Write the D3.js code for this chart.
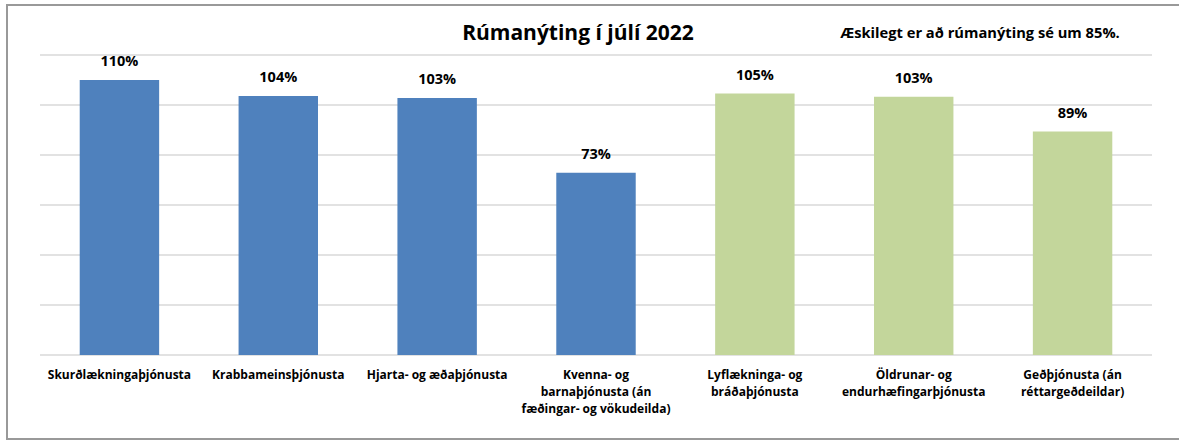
<!DOCTYPE html>
<html>
<head>
<meta charset="utf-8">
<script src="https://cdn.jsdelivr.net/npm/d3@7"></script>
<style>
  body { margin: 0; background: #fff; }
  text { font-family: "Open Sans", "Noto Sans", sans-serif; font-weight: bold; fill: #000; }
</style>
</head>
<body>
<div id="chart"></div>
<script>
var categories = [
  "Skurðlækningaþjónusta",
  "Krabbameinsþjónusta",
  "Hjarta- og æðaþjónusta",
  "Kvenna- og\nbarnaþjónusta (án\nfæðingar- og vökudeilda)",
  "Lyflækninga- og\nbráðaþjónusta",
  "Öldrunar- og\nendurhæfingarþjónusta",
  "Geðþjónusta (án\nréttargeðdeildar)"
];
var values = [110.0, 103.6, 102.8, 72.9, 104.6, 103.3, 89.4];
var colors = ["#4F81BD", "#4F81BD", "#4F81BD", "#4F81BD", "#C3D69B", "#C3D69B", "#C3D69B"];
var yTicks = [0, 20, 40, 60, 80, 100, 120];
var title = "Rúmanýting í júlí 2022";
var note = "Æskilegt er að rúmanýting sé um 85%.";

var svgWidth = 1179, svgHeight = 441,
    margin = {top: 55, right: 27, bottom: 86, left: 40},
    vizWidth = svgWidth - margin.left - margin.right,
    vizHeight = svgHeight - margin.top - margin.bottom;

var svg = d3.select("#chart").append("svg")
    .attr("width", svgWidth)
    .attr("height", svgHeight);

// chart frame
svg.append("rect")
    .attr("x", 7).attr("y", 5)
    .attr("width", 1190).attr("height", 434)
    .attr("fill", "none")
    .attr("stroke", "#999")
    .attr("stroke-width", 2);

var canvas = svg.append("g")
    .attr("transform", "translate(" + margin.left + "," + margin.top + ")");

var x = d3.scaleBand()
    .domain(categories)
    .range([0, vizWidth])
    .paddingInner(0.5)
    .paddingOuter(0.25);

var y = d3.scaleLinear()
    .domain([0, 120])
    .range([vizHeight, 0]);

// gridlines
canvas.selectAll("line.grid").data(yTicks)
  .join("line")
    .classed("grid", true)
    .attr("x1", 0)
    .attr("x2", vizWidth)
    .attr("y1", d => y(d))
    .attr("y2", d => y(d))
    .attr("stroke", "#d9d9d9")
    .attr("stroke-width", 1.5);

// bars
canvas.selectAll("rect.bar").data(values)
  .join("rect")
    .classed("bar", true)
    .attr("x", (d, i) => x(categories[i]))
    .attr("width", x.bandwidth())
    .attr("y", d => y(d))
    .attr("height", d => vizHeight - y(d))
    .attr("fill", (d, i) => colors[i]);

// value labels
canvas.selectAll("text.value").data(values)
  .join("text")
    .classed("value", true)
    .attr("x", (d, i) => x(categories[i]) + x.bandwidth() / 2)
    .attr("y", d => y(d) - 14)
    .attr("text-anchor", "middle")
    .style("font-size", "14.5px")
    .text(d => Math.round(d) + "%");

// category labels
var xAxis = canvas.append("g")
    .attr("transform", "translate(0," + vizHeight + ")");

xAxis.selectAll("text").data(categories)
  .join("text")
    .attr("x", d => x(d) + x.bandwidth() / 2)
    .attr("y", 24)
    .attr("text-anchor", "middle")
    .style("font-size", "12px")
    .each(function(d) {
      var t = d3.select(this);
      d.split("\n").forEach(function(line, i) {
        t.append("tspan")
          .attr("x", x(d) + x.bandwidth() / 2)
          .attr("dy", i === 0 ? 0 : 17)
          .text(line);
      });
    });

// title and note
svg.append("text")
    .attr("x", 578).attr("y", 40)
    .attr("text-anchor", "middle")
    .style("font-size", "21px")
    .text(title);

svg.append("text")
    .attr("x", 980).attr("y", 38)
    .attr("text-anchor", "middle")
    .style("font-size", "14.7px")
    .text(note);
</script>
</body>
</html>
